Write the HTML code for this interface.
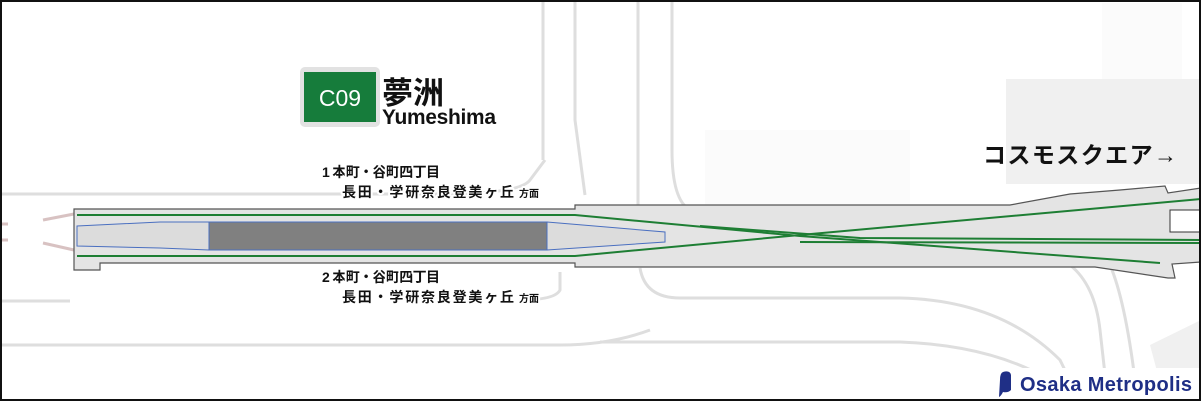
<!DOCTYPE html>
<html><head><meta charset="utf-8"><style>
html,body{margin:0;padding:0;background:#fff}
svg{display:block}
text{font-family:"Liberation Sans","Noto Sans CJK JP",sans-serif}
.h{paint-order:stroke;stroke:#fff;stroke-width:4px;stroke-linejoin:round}
</style></head><body>
<svg width="1201" height="401" viewBox="0 0 1201 401" xmlns="http://www.w3.org/2000/svg">
<rect x="0" y="0" width="1201" height="401" fill="#fff"/>
<rect x="705" y="130" width="205" height="75" fill="#fbfbfb"/>
<rect x="1102" y="3" width="80" height="77" fill="#fbfbfb"/>
<rect x="1006" y="79" width="195" height="105" fill="#f0f0f0"/>
<polygon points="1150,345 1201,320 1201,401 1165,401" fill="#f0f0f0"/>
<g fill="none" stroke="#dedede" stroke-width="3">
<path d="M0,194 H440 Q520,194 530,180 L545,160"/>
<path d="M543,0 V160"/>
<path d="M575,0 V120 L585,195"/>
<path d="M638,0 V210"/>
<path d="M672,0 V150 Q672,200 690,210"/>
<path d="M0,301 H70"/>
<path d="M0,345 H560 Q610,345 650,330"/>
<path d="M640,268 Q645,298 680,298 H900 Q1000,300 1060,360 L1080,401"/>
<path d="M600,342 H900 Q990,345 1050,380 L1070,401"/>
<path d="M1070,265 Q1095,285 1100,330 L1108,401"/>
<path d="M1110,265 Q1125,300 1135,380 L1138,401"/>
<path d="M560,272 V290 Q555,300 520,300"/>
</g>
<g stroke="#d8c2c2" stroke-width="3">
<line x1="43" y1="220" x2="74" y2="214"/><line x1="43" y1="243" x2="74" y2="250"/>
<line x1="0" y1="224" x2="8" y2="224"/><line x1="0" y1="240" x2="8" y2="240"/>
</g>
<polygon points="74,209 575,209 575,205 1010,205 1070,194 1120,190 1165,186 1168,193 1201,188 1201,262 1172,264 1175,278 1168,278 1095,267 575,267 575,263 100,263 100,270 74,270" fill="#e4e4e4" stroke="#555" stroke-width="1.2"/>
<rect x="1170" y="210" width="31" height="22" fill="#fff" stroke="#333" stroke-width="1"/>
<polygon points="77,226 160,222 209,222 547,222 665,232 665,242 547,250 209,250 160,248 77,246" fill="#dcdcdc" stroke="#4a6fc0" stroke-width="1"/>
<rect x="209" y="222" width="338" height="28" fill="#808080" stroke="#4a6fc0" stroke-width="1"/>
<g fill="none" stroke="#1e7e34" stroke-width="2">
<path d="M77,215 H575 L800,236 L1160,263"/>
<path d="M77,256 H575 L800,235 L1201,199"/>
<path d="M700,226 L860,238 L1201,240"/>
<path d="M800,242 L1201,243"/>
</g>
<rect x="300" y="67" width="80" height="60" rx="5" fill="#e2e2e2"/>
<rect x="304" y="72" width="72" height="50" fill="#167c3b"/>
<text x="340" y="106" font-size="23" fill="#fff" text-anchor="middle">C09</text>
<text x="382" y="104" font-size="31" font-weight="bold" fill="#111" class="h">夢洲</text>
<text x="382" y="124" font-size="21" font-weight="bold" fill="#111" class="h" textLength="114">Yumeshima</text>
<g font-weight="bold" fill="#111">
<text x="322" y="177" font-size="14" class="h" textLength="118">1 本町・谷町四丁目</text>
<text x="342" y="197" font-size="14" class="h" textLength="172">長田・学研奈良登美ヶ丘</text>
<text x="519" y="197" font-size="10" class="h">方面</text>
<text x="322" y="282" font-size="14" class="h" textLength="118">2 本町・谷町四丁目</text>
<text x="342" y="302" font-size="14" class="h" textLength="172">長田・学研奈良登美ヶ丘</text>
<text x="519" y="302" font-size="10" class="h">方面</text>
</g>
<text x="983" y="163" font-size="23" font-weight="bold" fill="#111" textLength="194">コスモスクエア→</text>
<rect x="995" y="368" width="206" height="33" fill="#fff"/>
<path d="M1003,372 Q1010,370 1011,375 V390 Q1008,393 1003,392 Q1001,396 999,397 L1000,380 Q1000,373 1003,372Z" fill="#1f2f86"/>
<text x="1020" y="391" font-size="20" font-weight="bold" fill="#1f2f86" textLength="172">Osaka Metropolis</text>
<rect x="1" y="1" width="1199" height="399" fill="none" stroke="#111" stroke-width="2"/>
</svg>
</body></html>
